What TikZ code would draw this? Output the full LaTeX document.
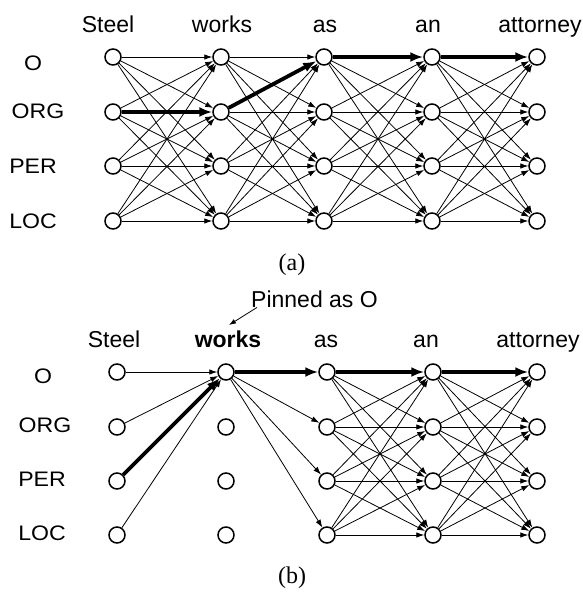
\documentclass[tikz,border=0pt]{standalone}
\usepackage{fontspec}
\setmainfont{Liberation Sans}
\newfontfamily\rowfont{Liberation Sans}[FakeStretch=1.1]
\newfontfamily\capfont{Liberation Serif}
\usetikzlibrary{arrows.meta}
\expandafter\def\csname thkA-1-2-2\endcsname{}
\expandafter\def\csname thkA-2-2-1\endcsname{}
\expandafter\def\csname thkA-3-1-1\endcsname{}
\expandafter\def\csname thkA-4-1-1\endcsname{}
\expandafter\def\csname thkB-3-1-1\endcsname{}
\expandafter\def\csname thkB-4-1-1\endcsname{}
\tikzset{
  st/.style={circle,draw,line width=1.5pt,minimum size=16pt,inner sep=0pt,fill=white},
  edge/.style={line width=0.8pt,-{Latex[length=8pt,width=5.5pt]}},
  thick edge/.style={line width=3.8pt,-{Latex[length=13pt,width=10pt]}},
  collab/.style={anchor=base,inner sep=0pt,font=\fontsize{23}{25}\selectfont},
  rowlab/.style={anchor=base,inner sep=0pt,font=\rowfont\fontsize{21}{23}\selectfont},
  caplab/.style={inner sep=0pt,font=\capfont\fontsize{24}{26}\selectfont},
  pinarrow/.style={line width=0.8pt,-{Latex[length=7pt,width=5pt]}}
}
\begin{document}
\begin{tikzpicture}[x=1pt,y=-1pt]
\path[use as bounding box] (0,0) rectangle (583,592);
% ---------- (a) ----------
\foreach \c/\x in {1/113,2/221,3/324,4/432,5/537}{
  \foreach \r/\y in {1/57,2/112,3/166,4/221}{
    \node[st] (a-\c-\r) at (\x,\y) {};
  }
}
\node[collab] (aw1) at (108,32) {Steel};
\node[collab] (aw2) at (222,32) {works};
\node[collab] (aw3) at (325,32) {as};
\node[collab] (aw4) at (428,32) {an};
\node[collab] (aw5) at (540,32) {attorney};
\node[rowlab] (al1) at (33,70) {O};
\node[rowlab] (al2) at (38,118) {ORG};
\node[rowlab] (al3) at (33,173) {PER};
\node[rowlab] (al4) at (33,228) {LOC};
\foreach \c/\n in {1/2,2/3,3/4,4/5}{
  \foreach \i in {1,...,4}{
    \foreach \j in {1,...,4}{
      \ifcsname thkA-\c-\i-\j\endcsname\else
        \draw[edge] (a-\c-\i) -- (a-\n-\j);
      \fi
    }
  }
}
\draw[thick edge] (a-1-2) -- (a-2-2);
\draw[thick edge] (a-2-2) -- (a-3-1);
\draw[thick edge] (a-3-1) -- (a-4-1);
\draw[thick edge] (a-4-1) -- (a-5-1);
\node[caplab] (capa) at (292,265) {(a)};
% ---------- (b) ----------
\foreach \c/\x in {1/117,2/226,3/327,4/433,5/537}{
  \foreach \r/\y in {1/372,2/427,3/481,4/535}{
    \node[st] (b-\c-\r) at (\x,\y) {};
  }
}
\node[collab] (bw1) at (114,347) {Steel};
\node[collab,font=\fontsize{23}{25}\selectfont\bfseries] (bw2) at (228,347) {works};
\node[collab] (bw3) at (326,347) {as};
\node[collab] (bw4) at (426,347) {an};
\node[collab] (bw5) at (538,347) {attorney};
\node[rowlab] (bl1) at (43,383) {O};
\node[rowlab] (bl2) at (45,432) {ORG};
\node[rowlab] (bl3) at (42,486) {PER};
\node[rowlab] (bl4) at (42,540) {LOC};
\node[collab,anchor=base west] (pin) at (251,307) {Pinned as O};
\coordinate (pinend) at (229,325);
\draw[pinarrow] ([xshift=6pt]pin.south west) -- (pinend);
% Steel -> works O
\draw[edge] (b-1-1) -- (b-2-1);
\draw[edge] (b-1-2) -- (b-2-1);
\draw[edge] (b-1-4) -- (b-2-1);
\draw[thick edge] (b-1-3) -- (b-2-1);
% works O -> as
\draw[edge] (b-2-1) -- (b-3-2);
\draw[edge] (b-2-1) -- (b-3-3);
\draw[edge] (b-2-1) -- (b-3-4);
\draw[thick edge] (b-2-1) -- (b-3-1);
\foreach \c/\n in {3/4,4/5}{
  \foreach \i in {1,...,4}{
    \foreach \j in {1,...,4}{
      \ifcsname thkB-\c-\i-\j\endcsname\else
        \draw[edge] (b-\c-\i) -- (b-\n-\j);
      \fi
    }
  }
}
\draw[thick edge] (b-3-1) -- (b-4-1);
\draw[thick edge] (b-4-1) -- (b-5-1);
\node[caplab] (capb) at (292,578) {(b)};
\end{tikzpicture}
\end{document}
